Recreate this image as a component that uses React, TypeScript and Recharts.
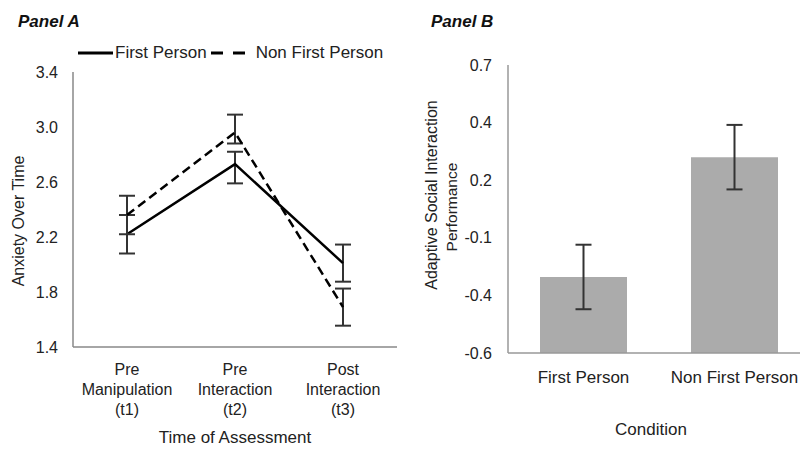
import { Bar, BarChart, ErrorBar, Legend, Line, LineChart, XAxis, YAxis } from "recharts";

// Panel A - anxiety at three assessment points
const timePoints = ["Pre\nManipulation\n(t1)", "Pre\nInteraction\n(t2)", "Post\nInteraction\n(t3)"];
const firstPersonAnxiety = [2.22, 2.73, 2.01];
const firstPersonErr = [[0.14, 0.14], [0.14, 0.09], [0.135, 0.135]];
const nonFirstPersonAnxiety = [2.36, 2.96, 1.69];
const nonFirstPersonErr = [[0.14, 0.14], [0.08, 0.13], [0.135, 0.135]];
const anxietyTicks = [1.4, 1.8, 2.2, 2.6, 3.0, 3.4];

// Panel B - adaptive social interaction performance
const conditions = ["First Person", "Non First Person"];
const performanceMeans = [-0.27, 0.25];
const performanceErr = [0.14, 0.14];
const performanceTicks = [-0.6, -0.35, -0.1, 0.15, 0.4, 0.65];
const performanceTickLabels = ["-0.6", "-0.4", "-0.1", "0.2", "0.4", "0.7"];

const font = 'Arial, "Liberation Sans", sans-serif';
const textColor = "#222";

const anxietyRows = timePoints.map((t, i) => ({
  time: t,
  firstPerson: firstPersonAnxiety[i],
  firstPersonErr: firstPersonErr[i],
  nonFirstPerson: nonFirstPersonAnxiety[i],
  nonFirstPersonErr: nonFirstPersonErr[i],
}));

// bars start at the bottom of the axis (-0.6), like the excel original
const perfFloor = performanceTicks[0];
const performanceRows = conditions.map((c, i) => ({
  condition: c,
  range: [perfFloor, performanceMeans[i]],
  err: performanceErr[i],
}));

function TimeTick({ x, y, payload }: any) {
  const lines = String(payload.value).split("\n");
  return (
    <text x={x} y={y} textAnchor="middle" fill={textColor} fontSize={16} fontFamily={font}>
      {lines.map((l, i) => (
        <tspan key={i} x={x} dy={i === 0 ? 0 : 20}>
          {l}
        </tspan>
      ))}
    </text>
  );
}

const legendA = () => (
  <div style={{ display: "flex", alignItems: "center", fontSize: 17, color: textColor, fontFamily: font, whiteSpace: "nowrap" }}>
    <svg width={35} height={10}>
      <line x1={0} y1={5} x2={35} y2={5} stroke="#000" strokeWidth={3} />
    </svg>
    <span style={{ marginLeft: 2 }}>First Person</span>
    <svg width={35} height={10} style={{ marginLeft: 4 }}>
      <line x1={0} y1={5} x2={35} y2={5} stroke="#000" strokeWidth={3} strokeDasharray="12 10" />
    </svg>
    <span style={{ marginLeft: 10 }}>Non First Person</span>
  </div>
);

const rotated = (x: number, y: number, text: string, size: number) => (
  <text x={x} y={y} transform={`rotate(-90 ${x} ${y})`} textAnchor="middle" dominantBaseline="central" fill={textColor} fontSize={size} fontFamily={font}>
    {text}
  </text>
);

export default function App() {
  return (
    <div style={{ position: "absolute", left: 0, top: 0, width: 800, height: 449, overflow: "hidden", background: "#fff", fontFamily: font }}>
      <div style={{ position: "absolute", left: 18, top: 12, fontSize: 17, fontWeight: "bold", fontStyle: "italic", color: "#111" }}>Panel A</div>
      <div style={{ position: "absolute", left: 431, top: 12, fontSize: 17, fontWeight: "bold", fontStyle: "italic", color: "#111" }}>Panel B</div>

      <div style={{ position: "absolute", left: 0, top: 0 }}>
        <LineChart width={400} height={449} data={anxietyRows} margin={{ top: 72, right: 3, bottom: 0, left: 0 }}>
          <XAxis
            dataKey="time"
            height={102}
            padding={{ left: 54, right: 54 }}
            axisLine={{ stroke: "#888", strokeWidth: 1.5 }}
            tickLine={false}
            tickSize={0}
            tickMargin={28}
            tick={<TimeTick />}
            label={{ value: "Time of Assessment", position: "insideBottom", offset: 6, fill: textColor, fontSize: 17 }}
          />
          <YAxis
            width={73}
            domain={[1.4, 3.4]}
            ticks={anxietyTicks}
            allowDataOverflow
            tickFormatter={(v: number) => v.toFixed(1)}
            axisLine={{ stroke: "#888", strokeWidth: 1.5 }}
            tickLine={false}
            tickSize={0}
            tickMargin={15}
            tick={{ fill: textColor, fontSize: 16 }}
            label={{ content: () => rotated(18, 221, "Anxiety Over Time", 16) }}
          />
          <Legend verticalAlign="middle" align="center" layout="horizontal" content={legendA} wrapperStyle={{ top: 43, left: 78, width: "auto" }} />
          <Line dataKey="firstPerson" name="First Person" stroke="#000" strokeWidth={2.5} dot={false} isAnimationActive={false}>
            <ErrorBar dataKey="firstPersonErr" direction="y" width={8} stroke="#333" strokeWidth={2} />
          </Line>
          <Line dataKey="nonFirstPerson" name="Non First Person" stroke="#000" strokeWidth={2.5} strokeDasharray="9 5" dot={false} isAnimationActive={false}>
            <ErrorBar dataKey="nonFirstPersonErr" direction="y" width={8} stroke="#333" strokeWidth={2} />
          </Line>
        </LineChart>
      </div>

      <div style={{ position: "absolute", left: 400, top: 0 }}>
        <BarChart width={415} height={449} data={performanceRows} margin={{ top: 65, right: 5, bottom: 0, left: 0 }} barSize={87}>
          <XAxis
            dataKey="condition"
            height={96}
            axisLine={{ stroke: "#999", strokeWidth: 1.5 }}
            tickLine={false}
            tickSize={0}
            tickMargin={18}
            tick={{ fill: textColor, fontSize: 17 }}
            label={{
              content: () => (
                <text x={251} y={435} textAnchor="middle" fill={textColor} fontSize={17} fontFamily={font}>
                  Condition
                </text>
              ),
            }}
          />
          <YAxis
            width={108}
            domain={[-0.6, 0.65]}
            ticks={performanceTicks}
            allowDataOverflow
            tickFormatter={(v: number) => performanceTickLabels[performanceTicks.indexOf(v)]}
            axisLine={{ stroke: "#999", strokeWidth: 1.5 }}
            tickLine={false}
            tickSize={0}
            tickMargin={16}
            tick={{ fill: textColor, fontSize: 16 }}
            label={{
              content: () => (
                <g>
                  {rotated(31, 195, "Adaptive Social Interaction", 16)}
                  {rotated(51, 207, "Performance", 15.5)}
                </g>
              ),
            }}
          />
          <Bar dataKey="range" fill="#ababab" isAnimationActive={false}>
            <ErrorBar dataKey="err" direction="y" width={8} stroke="#333" strokeWidth={2} />
          </Bar>
        </BarChart>
      </div>
    </div>
  );
}
